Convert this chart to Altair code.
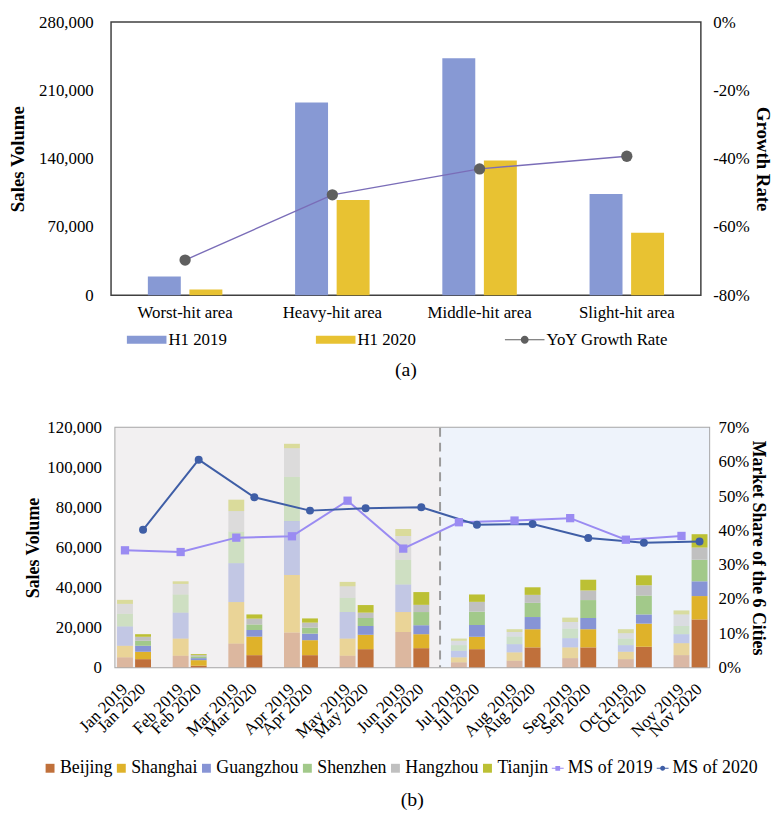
import altair as alt
import pandas as pd

SERIF = "Liberation Serif"

# ---------------- panel (a) data ----------------
areas = ["Worst-hit area", "Heavy-hit area", "Middle-hit area", "Slight-hit area"]
h1_2019 = [19300, 197500, 243000, 103700]
h1_2020 = [5800, 97700, 138000, 64000]
yoy_growth = [-0.697, -0.506, -0.430, -0.393]
series_a = ["H1 2019", "H1 2020", "YoY Growth Rate"]
sales_ticks_a = [0, 70000, 140000, 210000, 280000]
growth_ticks_a = [-0.8, -0.6, -0.4, -0.2, 0.0]

# ---------------- panel (b) data ----------------
months = ["Jan", "Feb", "Mar", "Apr", "May", "Jun", "Jul", "Aug", "Sep", "Oct", "Nov"]
years = ["2019", "2020"]
cities = ["Beijing", "Shanghai", "Guangzhou", "Shenzhen", "Hangzhou", "Tianjin"]
beijing_2019 = [5000, 5800, 11900, 17400, 5800, 17700, 2500, 3300, 4600, 4100, 6100]
shanghai_2019 = [5800, 8600, 20800, 28800, 8600, 10000, 2500, 4200, 5400, 3700, 6000]
guangzhou_2019 = [9700, 13000, 19500, 27100, 13300, 13800, 3300, 4100, 4600, 3300, 4500]
shenzhen_2019 = [6300, 9100, 15800, 22100, 7100, 12400, 2800, 3800, 4800, 3300, 4100]
hangzhou_2019 = [5000, 5300, 10300, 14400, 5800, 11900, 2200, 2300, 3300, 2700, 5800]
tianjin_2019 = [2000, 1300, 5700, 2200, 2200, 3500, 1100, 1400, 2200, 2000, 2000]
beijing_2020 = [4100, 800, 6100, 6100, 9100, 9600, 9100, 10000, 10000, 10300, 24000]
shanghai_2020 = [3700, 2800, 9300, 7500, 7200, 7000, 6200, 9100, 9100, 11600, 11700]
guangzhou_2020 = [3000, 1000, 3300, 3300, 4400, 4500, 5900, 6100, 5600, 4600, 7400]
shenzhen_2020 = [2500, 900, 2800, 3000, 4000, 6600, 6700, 7100, 9000, 9500, 10800]
hangzhou_2020 = [2000, 600, 2900, 2500, 2700, 3600, 4900, 4000, 4800, 5100, 6100]
tianjin_2020 = [1300, 500, 2100, 2100, 3800, 6400, 3700, 3800, 5400, 5000, 6700]
ms_2019 = [0.342, 0.337, 0.379, 0.383, 0.487, 0.347, 0.424, 0.429, 0.436, 0.373, 0.384]
ms_2020 = [0.402, 0.607, 0.497, 0.458, 0.465, 0.468, 0.417, 0.419, 0.378, 0.364, 0.368]
ms_names = ["MS of 2019", "MS of 2020"]
sales_ticks_b = [0, 20000, 40000, 60000, 80000, 100000, 120000]
share_ticks_b = [0, 0.1, 0.2, 0.3, 0.4, 0.5, 0.6, 0.7]

# ---------------- styles ----------------
colors_a = ["#8799d4", "#e8c232", "#5f5f5f"]
bar_sym = "M-1,-0.2H1V0.2H-1Z"
line_dot_sym = "M-1,-0.03H1V0.03H-1Z M-0.2,0A0.2,0.2,0,1,1,0.2,0A0.2,0.2,0,1,1,-0.2,0Z"
shapes_a = [bar_sym, bar_sym, line_dot_sym]

names_b = cities + ms_names
colors_b = ["#c0703b", "#dfb22a", "#8794d5", "#a2c98a", "#c0c0c0", "#bcc034", "#9a8bf2", "#3f5ea6"]
sq_sym = "M-0.75,-0.75H0.75V0.75H-0.75Z"
ms19_sym = "M-1,-0.1H1V0.1H-1Z M-0.4,-0.4H0.4V0.4H-0.4Z"
ms20_sym = "M-1,-0.1H1V0.1H-1Z M-0.42,0A0.42,0.42,0,1,1,0.42,0A0.42,0.42,0,1,1,-0.42,0Z"
shapes_b = [sq_sym] * 6 + [ms19_sym, ms20_sym]

minus_fix = "replace(datum.label, '\u2212', '-')"

# ================= panel (a) =================
df_a = pd.DataFrame({
    "area": areas * 2,
    "series": ["H1 2019"] * len(areas) + ["H1 2020"] * len(areas),
    "value": h1_2019 + h1_2020,
})
df_g = pd.DataFrame({"area": areas, "growth": yoy_growth})
df_leg_a = pd.DataFrame({"series": series_a})

x_scale_a = alt.Scale(domain=areas, paddingInner=0.494, paddingOuter=0.25)
x_axis_a = alt.Axis(orient="bottom", title=None, labelAngle=0, ticks=False, tickSize=0, domain=False,
                    labelPadding=10, labelFontSize=17, labelFont=SERIF, labelColor="black")
x_a = alt.X("area:N", scale=x_scale_a, axis=x_axis_a)
color_scale_a = alt.Scale(domain=series_a, range=colors_a)

leg_a = alt.Legend(title=None, orient="none", legendX=16, legendY=301, direction="horizontal",
                   columns=3, columnPadding=89, symbolSize=1600, symbolStrokeWidth=0,
                   labelFontSize=17, labelFont=SERIF, labelOffset=2, padding=0,
                   labelColor="black", labelLimit=400)

bars_a = alt.Chart(df_a).mark_bar().encode(
    x=x_a,
    xOffset=alt.XOffset("series:N", scale=alt.Scale(domain=series_a[:2], paddingInner=0.207)),
    y=alt.Y("value:Q", scale=alt.Scale(domain=[0, 280000]),
            axis=alt.Axis(orient="left", title="Sales Volume", values=sales_ticks_a, format=",.0f",
                          ticks=False, tickSize=0, domain=False, grid=False, labelPadding=18,
                          titleX=-84, labelFontSize=17, titleFontSize=19, labelFont=SERIF,
                          titleFont=SERIF, labelColor="black", titleColor="black")),
    color=alt.Color("series:N", scale=color_scale_a, legend=None),
)

y_growth = alt.Y("growth:Q", scale=alt.Scale(domain=[-0.8, 0]),
                 axis=alt.Axis(orient="right", title="Growth Rate", values=growth_ticks_a, format=".0%",
                               labelExpr=minus_fix, ticks=False, tickSize=0, domain=False, grid=False,
                               labelPadding=12, titleX=52, labelFontSize=17, titleFontSize=19,
                               labelFont=SERIF, titleFont=SERIF, labelColor="black", titleColor="black"))

line_a = alt.Chart(df_g).mark_line(color="#7a6db8", strokeWidth=1.4).encode(x=x_a, y=y_growth)
pts_a = alt.Chart(df_g).mark_circle(color="#5f5f5f", size=130, opacity=1).encode(x=x_a, y=y_growth)

leg_layer_a = alt.Chart(df_leg_a).transform_filter("false").mark_point(filled=True, opacity=1).encode(
    color=alt.Color("series:N", scale=color_scale_a, legend=leg_a),
    shape=alt.Shape("series:N", scale=alt.Scale(domain=series_a, range=shapes_a), legend=leg_a),
)

panel_a = alt.layer(bars_a, alt.layer(line_a, pts_a), leg_layer_a).resolve_scale(
    y="independent", color="independent", shape="independent"
).properties(
    width=596, height=276,
    view=alt.ViewBackground(stroke="#404040", strokeWidth=1.5),
    title=alt.Title("(a)", orient="bottom", anchor="middle", fontSize=20, font=SERIF,
                    fontWeight="normal", offset=13, color="black"),
)

# ================= panel (b) =================
sales_b = {
    ("Beijing", "2019"): beijing_2019, ("Beijing", "2020"): beijing_2020,
    ("Shanghai", "2019"): shanghai_2019, ("Shanghai", "2020"): shanghai_2020,
    ("Guangzhou", "2019"): guangzhou_2019, ("Guangzhou", "2020"): guangzhou_2020,
    ("Shenzhen", "2019"): shenzhen_2019, ("Shenzhen", "2020"): shenzhen_2020,
    ("Hangzhou", "2019"): hangzhou_2019, ("Hangzhou", "2020"): hangzhou_2020,
    ("Tianjin", "2019"): tianjin_2019, ("Tianjin", "2020"): tianjin_2020,
}
rows = []
for ci, city in enumerate(cities):
    for yr in years:
        for m, v in zip(months, sales_b[(city, yr)]):
            rows.append({"month": m, "year": yr, "name": city, "sales": v, "ci": ci})
df_b = pd.DataFrame(rows)

ms_rows = []
for yr, name, vals in zip(years, ms_names, [ms_2019, ms_2020]):
    for m, v in zip(months, vals):
        ms_rows.append({"month": m, "year": yr, "name": name, "share": v})
df_ms = pd.DataFrame(ms_rows)

df_lbl = pd.DataFrame([{"month": m, "year": yr, "label": f"{m} {yr}"} for m in months for yr in years])
df_one = pd.DataFrame({"k": [0]})
df_leg_b = pd.DataFrame({"name": names_b})

x_scale_b = alt.Scale(domain=months, paddingInner=0.39, paddingOuter=0.03)
xoff_scale_b = alt.Scale(domain=years, paddingInner=0.12)
color_scale_b = alt.Scale(domain=names_b, range=colors_b)
x_b = alt.X("month:N", scale=x_scale_b, axis=None)
xo_b = alt.XOffset("year:N", scale=xoff_scale_b)

# split between Jun and Jul: start of the Jul band, moved back by half the gap between months
split_x = alt.XDatum("Jul", type="nominal", bandPosition=0, scale=x_scale_b, axis=None)
half_gap = -11
bg_left = alt.Chart(df_one).mark_rect(color="#f2f0f1", xOffset=half_gap).encode(x=split_x, x2=alt.value(0))
bg_right = alt.Chart(df_one).mark_rect(color="#eef3fb", xOffset=half_gap).encode(x=split_x, x2=alt.value("width"))
rule_b = alt.Chart(df_one).mark_rule(color="#9b9b9b", strokeDash=[9, 6], strokeWidth=2,
                                     xOffset=half_gap).encode(x=split_x)

y_axis_b = alt.Axis(orient="left", title="Sales Volume", values=sales_ticks_b, format=",.0f",
                    ticks=False, tickSize=0, domain=False, grid=False, labelPadding=14,
                    titleX=-74, labelFontSize=17, titleFontSize=18, labelFont=SERIF,
                    titleFont=SERIF, labelColor="black", titleColor="black")
y_scale_b = alt.Scale(domain=[0, 120000])

bars_b = alt.Chart(df_b).mark_bar().encode(
    x=x_b,
    xOffset=xo_b,
    y=alt.Y("sales:Q", stack="zero", scale=y_scale_b, axis=y_axis_b),
    color=alt.Color("name:N", scale=color_scale_b, legend=None),
    opacity=alt.Opacity("year:N", scale=alt.Scale(domain=years, range=[0.45, 1.0]), legend=None),
    order=alt.Order("ci:Q", sort="ascending"),
)

text_b = alt.Chart(df_lbl).mark_text(angle=315, align="right", baseline="middle", dx=-14, dy=14,
                                      font=SERIF, fontSize=17, color="black").encode(
    x=x_b, xOffset=xo_b, y=alt.YDatum(0, type="quantitative", scale=y_scale_b, axis=y_axis_b),
    text="label:N",
)

y_share = alt.Y("share:Q", scale=alt.Scale(domain=[0, 0.7]),
                axis=alt.Axis(orient="right", title="Market Share of the 6 Cities", values=share_ticks_b,
                              format=".0%", ticks=False, tickSize=0, domain=False, grid=False,
                              labelPadding=9, titleX=40, labelFontSize=17, titleFontSize=18,
                              labelFont=SERIF, titleFont=SERIF, labelColor="black", titleColor="black"))

line_b = alt.Chart(df_ms).mark_line(strokeWidth=2).encode(
    x=x_b, xOffset=xo_b, y=y_share, color=alt.Color("name:N", scale=color_scale_b, legend=None),
)
pts19_b = alt.Chart(df_ms).transform_filter(alt.datum.year == "2019").mark_point(
    shape="square", filled=True, size=70, opacity=1).encode(
    x=x_b, xOffset=xo_b, y=y_share, color=alt.Color("name:N", scale=color_scale_b, legend=None),
)
pts20_b = alt.Chart(df_ms).transform_filter(alt.datum.year == "2020").mark_circle(
    size=65, opacity=1).encode(
    x=x_b, xOffset=xo_b, y=y_share, color=alt.Color("name:N", scale=color_scale_b, legend=None),
)

leg_b = alt.Legend(title=None, orient="none", legendX=-75, legendY=335, direction="horizontal",
                   columns=8, columnPadding=0, symbolSize=144, symbolStrokeWidth=0,
                   labelFontSize=18, labelFont=SERIF, labelOffset=1, padding=0,
                   labelColor="black", labelLimit=400)
leg_layer_b = alt.Chart(df_leg_b).transform_filter("false").mark_point(filled=True, opacity=1).encode(
    color=alt.Color("name:N", scale=color_scale_b, legend=leg_b),
    shape=alt.Shape("name:N", scale=alt.Scale(domain=names_b, range=shapes_b), legend=leg_b),
)

panel_b = alt.layer(
    bg_left, bg_right, rule_b,
    alt.layer(bars_b, text_b),
    alt.layer(line_b, pts19_b, pts20_b),
    leg_layer_b,
).resolve_scale(y="independent", color="independent", shape="independent").properties(
    width=600, height=242,
    view=alt.ViewBackground(stroke="#a6a6a6", strokeWidth=2),
    title=alt.Title("(b)", orient="bottom", anchor="middle", fontSize=20, font=SERIF,
                    fontWeight="normal", offset=13, color="black"),
)

chart = alt.vconcat(panel_a, panel_b, spacing=37, center=True).resolve_scale(
    color="independent", shape="independent", opacity="independent",
    x="independent", y="independent", xOffset="independent",
).resolve_legend(color="independent", shape="independent").properties(
    padding={"left": 0, "top": 0, "right": 0, "bottom": 0},
    background="white",
).configure_view(stroke=None)

chart.save("out.html", embed_options={"renderer": "svg", "actions": False})
